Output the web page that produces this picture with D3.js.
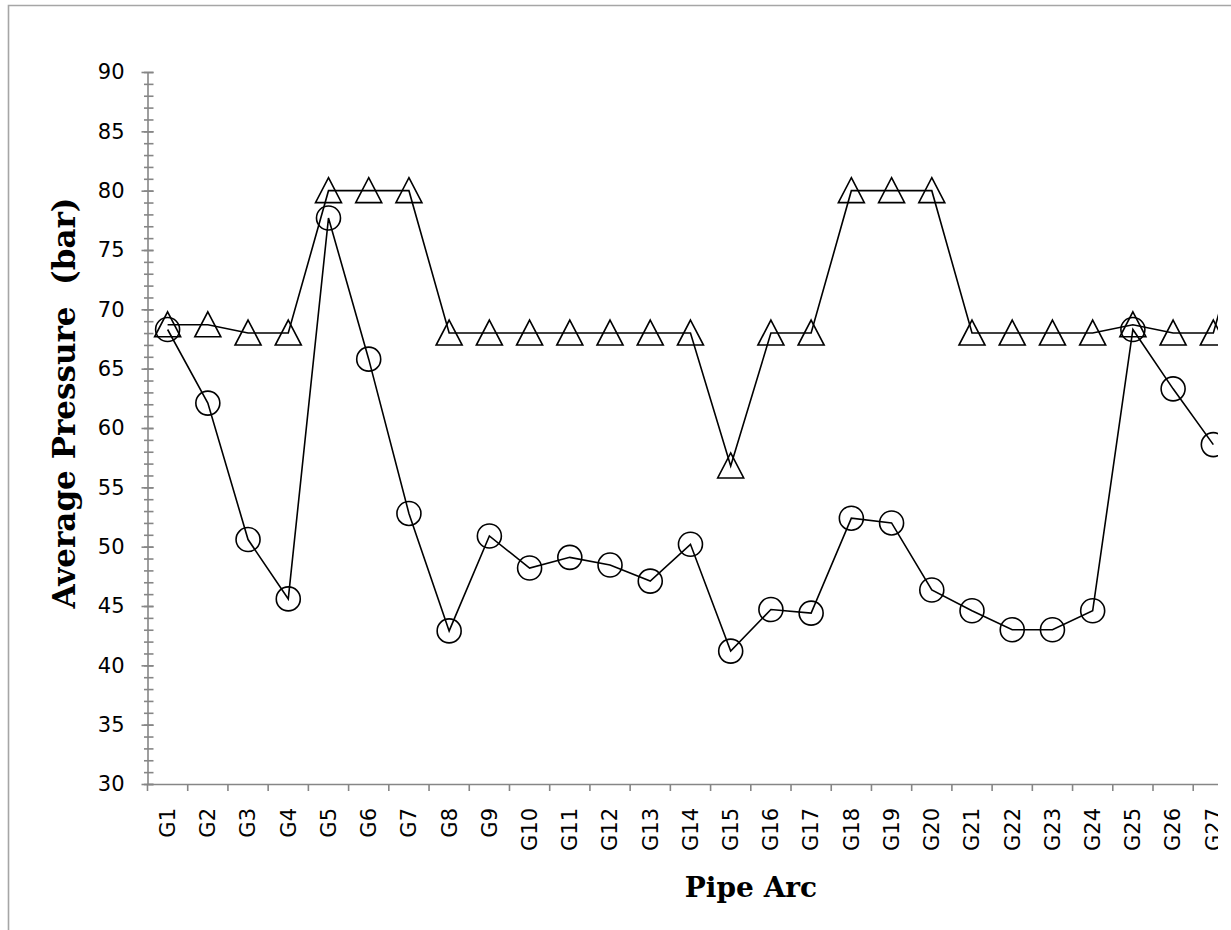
<!DOCTYPE html>
<html>
<head>
<meta charset="utf-8">
<script src="https://cdn.jsdelivr.net/npm/d3@7"></script>
<style>
  body { margin: 0; background: #fff; }
  svg { display: block; }
</style>
</head>
<body>
<svg id="chart"></svg>
<script>
const categories = ['G1', 'G2', 'G3', 'G4', 'G5', 'G6', 'G7', 'G8', 'G9', 'G10',
  'G11', 'G12', 'G13', 'G14', 'G15', 'G16', 'G17', 'G18', 'G19', 'G20',
  'G21', 'G22', 'G23', 'G24', 'G25', 'G26', 'G27', 'G28'];

// labels that show inside the picture (G28 lies past the cut edge)
const xTickLabels = categories.slice(0, 27);

// triangles (upper series)
const triangleValues = [68.7, 68.7, 68, 68, 80, 80, 80, 68, 68, 68,
  68, 68, 68, 68, 56.8, 68, 68, 80, 80, 80,
  68, 68, 68, 68, 68.7, 68, 68, 80];

// circles (lower series)
const circleValues = [68.3, 62.1, 50.6, 45.6, 77.7, 65.8, 52.8, 42.9, 50.9, 48.2,
  49.1, 48.45, 47.1, 50.2, 41.2, 44.7, 44.4, 52.4, 52.0, 46.35,
  44.6, 43.0, 43.0, 44.6, 68.3, 63.3, 58.6];

const yTicks = [30, 35, 40, 45, 50, 55, 60, 65, 70, 75, 80, 85, 90];
const yMinorTicks = d3.range(30, 91, 1);
const yTitle = 'Average Pressure  (bar)';
const xTitle = 'Pipe Arc';

const dims = {
  width: 1231,
  height: 930,
  plot: { left: 147.5, top: 72, bottom: 784, step: 40.22 },
  clipRight: 1218
};

const axisGray = '#868686';
const tickFont = 'DejaVu Sans, Verdana, sans-serif';

const svg = d3.select('#chart')
  .attr('width', dims.width)
  .attr('height', dims.height);

// outer frame of the chart object
svg.append('path')
  .attr('d', `M8.5,${dims.height + 2}V5.5H${dims.width + 2}`)
  .attr('fill', 'none')
  .attr('stroke', '#a6a6a6')
  .attr('stroke-width', 1.6);

svg.append('clipPath')
  .attr('id', 'clip')
  .append('rect')
  .attr('x', 0)
  .attr('y', 0)
  .attr('width', dims.clipRight)
  .attr('height', dims.height);

const g = svg.append('g').attr('clip-path', 'url(#clip)');

// Scales
const xScale = d3.scaleBand()
  .domain(categories)
  .range([dims.plot.left, dims.plot.left + dims.plot.step * categories.length]);

const yScale = d3.scaleLinear()
  .domain([30, 90])
  .range([dims.plot.bottom, dims.plot.top]);

const cx = d => xScale(d) + xScale.bandwidth() / 2;

// Y axis: minor ticks first, then major ticks with labels
const yMinor = g.append('g')
  .attr('transform', `translate(${dims.plot.left},0)`)
  .call(d3.axisLeft(yScale).tickValues(yMinorTicks).tickSize(3.5).tickFormat(''));
yMinor.select('.domain').remove();
yMinor.selectAll('.tick line')
  .attr('x2', -3.5)
  .attr('x1', 6);

const yAxis = g.append('g')
  .attr('transform', `translate(${dims.plot.left},0)`)
  .call(d3.axisLeft(yScale).tickValues(yTicks).tickSizeOuter(0).tickSize(6).tickPadding(17));
yAxis.selectAll('.tick line').attr('x1', 6);

// X axis, ticks between categories
const xAxis = g.append('g')
  .attr('transform', `translate(0,${dims.plot.bottom})`)
  .call(d3.axisBottom(xScale).tickValues(xTickLabels).tickSizeOuter(0).tickSize(0));
xAxis.select('.domain').attr('d', `M${dims.plot.left},0.5H${dims.width}`);
xAxis.selectAll('.tick text')
  .attr('transform', 'rotate(-90)')
  .attr('text-anchor', 'end')
  .attr('x', -24)
  .attr('y', 0)
  .attr('dy', '0.35em');

g.append('g')
  .selectAll('line')
  .data(categories)
  .join('line')
  .attr('x1', d => xScale(d))
  .attr('x2', d => xScale(d))
  .attr('y1', dims.plot.bottom)
  .attr('y2', dims.plot.bottom + 7)
  .attr('stroke', axisGray)
  .attr('stroke-width', 1.6);

[yAxis, yMinor, xAxis].forEach(a => {
  a.selectAll('.domain, .tick line')
    .attr('stroke', axisGray)
    .attr('stroke-width', 1.6);
  a.selectAll('.tick text')
    .attr('fill', '#000')
    .attr('font-family', tickFont)
    .style('font-size', '21px');
});
yAxis.select('.domain').attr('d', `M0.5,${yScale(90)}V${yScale(30)}`);

// Lines
const line = d3.line()
  .x((d, i) => cx(categories[i]))
  .y(d => yScale(d));

[triangleValues, circleValues].forEach(series => {
  g.append('path')
    .datum(series)
    .attr('d', line)
    .attr('fill', 'none')
    .attr('stroke', '#000')
    .attr('stroke-width', 1.6);
});

// Markers
g.append('g')
  .selectAll('path')
  .data(triangleValues)
  .join('path')
  .attr('transform', (d, i) => `translate(${cx(categories[i])},${yScale(d)})`)
  .attr('d', 'M0,-13L13,12H-13Z')
  .attr('fill', 'none')
  .attr('stroke', '#000')
  .attr('stroke-width', 1.6);

g.append('g')
  .selectAll('circle')
  .data(circleValues)
  .join('circle')
  .attr('cx', (d, i) => cx(categories[i]))
  .attr('cy', d => yScale(d))
  .attr('r', 12)
  .attr('fill', 'none')
  .attr('stroke', '#000')
  .attr('stroke-width', 1.6);

// Titles
g.append('text')
  .attr('transform', 'translate(75,403) rotate(-90)')
  .attr('text-anchor', 'middle')
  .attr('font-family', 'DejaVu Serif, serif')
  .attr('font-weight', 'bold')
  .attr('font-size', 31)
  .style('white-space', 'pre')
  .text(yTitle);

g.append('text')
  .attr('x', 751)
  .attr('y', 897)
  .attr('text-anchor', 'middle')
  .attr('font-family', 'DejaVu Serif, serif')
  .attr('font-weight', 'bold')
  .attr('font-size', 28)
  .text(xTitle);
</script>
</body>
</html>
